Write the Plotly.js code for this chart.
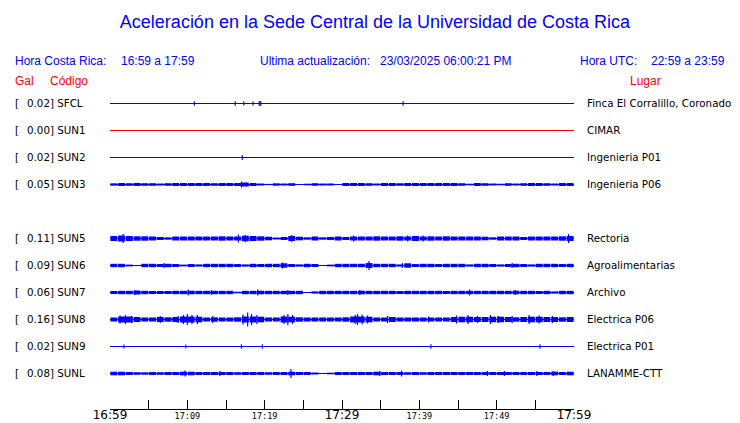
<!DOCTYPE html>
<html><head><meta charset="utf-8">
<script src="https://cdn.plot.ly/plotly-3.0.1.min.js"></script>
<style>html,body{margin:0;padding:0;background:#fff}</style>
</head><body><div id="chart" style="width:740px;height:423px"></div>
<script>
// ---------- data ----------
const stations = ['SFCL','SUN1','SUN2','SUN3','SUN5','SUN6','SUN7','SUN8','SUN9','SUNL'];
const slots    = [0,1,2,3,5,6,7,8,9,10];
const gals     = ['0.02','0.00','0.02','0.05','0.11','0.09','0.06','0.16','0.02','0.08'];
const places   = ['Finca El Corralillo, Coronado','CIMAR','Ingenieria P01','Ingenieria P06','Rectoria',
                  'Agroalimentarias','Archivo','Electrica P06','Electrica P01','LANAMME-CTT'];
const traceColors = ['#0000ff','#ff0000','#0000ff','#0000ff','#0000ff','#0000ff','#0000ff','#0000ff','#0000ff','#0000ff'];

const tickMinutes = [0,5,10,15,20,25,30,35,40,45,50,55,60];
const smallTickText = ['','','17:09','','17:19','','','','17:39','','17:49','',''];
const bigTickMinutes = [0,30,60];
const bigTickText = ['16:59','17:29','17:59'];

// per-minute envelope (half amplitude, display units)
const envSUN3 = [1.2,1.5,1.3,1.5,1.3,1.3,1.0,1.3,1.5,1.5,1.5,1.5,1.5,1.3,1.5,1.5,1.5,2.0,1.5,1.0,
                 0.6,1.2,1.0,1.3,0.5,0.8,1.3,1.0,1.0,0.4,1.5,1.5,1.5,1.3,1.0,1.5,1.5,1.3,1.5,1.5,
                 1.5,1.5,1.5,1.5,1.5,1.3,0.8,1.5,1.3,1.0,0.8,1.3,1.0,1.3,1.5,1.5,1.3,1.0,1.5,1.5];
const envSUN5 = [2.5,3.0,2.5,2.2,2.2,2.0,1.5,1.2,2.0,2.0,2.0,2.0,2.0,2.0,2.2,2.0,2.0,2.8,2.5,2.2,
                 1.8,1.0,1.5,2.5,1.8,1.2,2.0,1.2,1.5,2.0,1.5,2.0,2.0,2.0,2.2,2.0,2.0,2.2,2.0,2.5,
                 2.0,2.2,2.0,2.2,2.0,2.0,2.0,2.0,1.8,1.2,2.0,2.0,2.0,1.5,2.0,2.0,2.0,2.0,2.2,2.5];
const envSUN6 = [1.7,1.7,0.9,0.5,1.7,1.7,1.5,1.7,1.5,0.9,1.5,1.1,1.7,1.7,1.7,1.7,1.5,1.1,1.7,1.5,
                 1.7,1.7,2.2,1.5,1.1,1.7,1.5,0.5,0.9,1.7,1.7,1.7,1.7,2.4,1.7,1.7,1.7,1.1,2.2,1.5,
                 1.7,1.7,1.5,1.7,1.7,1.7,1.1,1.7,1.7,1.5,1.1,1.5,1.7,1.5,1.1,1.7,1.7,1.7,1.5,1.7];
const envSUN7 = [1.5,1.7,1.7,2.0,1.7,1.5,1.5,1.5,1.7,1.7,1.8,1.7,1.7,1.7,1.7,1.7,0.8,1.7,1.7,1.8,
                 1.7,1.7,1.7,1.7,1.7,0.5,1.1,1.7,1.7,1.7,1.7,1.7,1.8,1.7,1.7,1.7,1.7,1.5,1.7,1.7,
                 1.7,1.7,1.7,1.5,1.7,1.7,1.7,1.7,1.7,1.7,1.7,1.7,1.8,1.7,1.7,1.5,1.7,1.1,1.7,1.7];
const envSUN8 = [2.0,3.0,3.0,2.5,2.0,2.0,2.5,2.2,2.5,3.0,3.0,2.8,2.0,2.2,2.0,2.0,2.2,3.0,3.0,2.8,
                 2.0,2.0,3.0,2.8,2.2,2.0,2.0,2.0,2.0,2.0,2.2,3.0,3.0,2.8,2.0,2.0,2.5,2.0,2.0,2.0,
                 2.0,2.0,2.0,2.0,2.5,2.8,2.8,2.5,2.5,2.8,2.8,2.5,2.2,2.5,2.8,2.8,2.5,2.5,2.2,2.5];
const envSUNL = [1.8,1.8,1.5,1.3,1.2,1.5,1.3,1.5,1.5,1.8,1.8,1.5,1.5,1.5,1.5,1.5,1.3,1.5,1.5,1.5,
                 1.3,1.5,1.5,1.8,1.5,1.5,1.0,0.3,0.8,1.5,1.5,1.5,1.5,1.5,1.8,1.5,1.5,1.5,1.3,1.5,
                 1.3,1.5,1.5,1.5,1.5,1.5,1.5,1.5,1.5,1.5,1.5,1.5,1.5,1.5,1.5,1.5,1.5,1.8,1.5,1.8];

// isolated spikes: minute and half amplitude
const spikeT_SFCL = [10.9,16.2,17.3,18.5,19.3,19.5,37.9];
const spikeA_SFCL = [2.2,2.2,2.0,2.0,2.5,2.5,2.2];
const spikeT_SUN2 = [17.1];
const spikeA_SUN2 = [2.5];
const spikeT_SUN3 = [17.0];
const spikeA_SUN3 = [3.0];
const spikeT_SUN5 = [1.7,16.6,17.5,23.5,31.5,38.5,40.5,59.3];
const spikeA_SUN5 = [4.5,4.0,3.5,3.5,3.0,3.0,3.0,4.5];
const spikeT_SUN6 = [7.0,22.3,33.5,37.8,52.0];
const spikeA_SUN6 = [2.5,3.0,4.5,2.5,2.5];
const spikeT_SUN7 = [3.2,10.1,13.1,19.1,23.0,32.3,46.5,52.4];
const spikeA_SUN7 = [2.5,3.0,2.5,3.0,2.5,2.5,3.0,2.5];
const spikeT_SUN8 = [1.3,2.0,2.8,6.5,8.8,9.5,10.0,10.6,11.3,13.3,17.2,17.8,18.3,19.0,22.5,23.0,23.6,
                     31.7,32.0,32.6,33.3,35.9,41.2,44.8,46.3,47.5,49.2,50.2,52.0,54.2,55.5,57.2];
const spikeA_SUN8 = [4.0,4.5,3.5,3.5,3.5,4.5,5.5,4.5,4.5,3.5,5.0,7.0,5.5,4.5,4.5,5.5,4.5,
                     4.5,5.5,5.0,4.0,3.5,3.0,4.0,4.5,3.5,4.5,3.5,3.5,4.5,4.0,3.5];
const spikeT_SUN9 = [1.8,9.8,17.0,19.7,41.5,55.6];
const spikeA_SUN9 = [2.0,2.0,2.2,2.2,2.2,2.2];
const spikeT_SUNL = [9.7,14.2,23.4,34.9,37.7,48.8,51.0,55.2,57.3];
const spikeA_SUNL = [3.0,2.5,4.5,2.5,3.0,2.5,2.5,2.5,2.5];

const envelopes = {SUN3:envSUN3,SUN5:envSUN5,SUN6:envSUN6,SUN7:envSUN7,SUN8:envSUN8,SUNL:envSUNL};
const spikes = {
  SFCL:[spikeT_SFCL,spikeA_SFCL], SUN2:[spikeT_SUN2,spikeA_SUN2], SUN3:[spikeT_SUN3,spikeA_SUN3],
  SUN5:[spikeT_SUN5,spikeA_SUN5], SUN6:[spikeT_SUN6,spikeA_SUN6], SUN7:[spikeT_SUN7,spikeA_SUN7],
  SUN8:[spikeT_SUN8,spikeA_SUN8], SUN9:[spikeT_SUN9,spikeA_SUN9], SUNL:[spikeT_SUNL,spikeA_SUNL]
};

// ---------- layout geometry ----------
const W=740,H=423,ML=110,MR=166,MT=90,MB=14;
const plotW=W-ML-MR, plotH=H-MT-MB;
const slotPx=27;
const firstSlotPx=103.5;
const yTop=(MT-firstSlotPx)/slotPx, yBot=(H-MB-firstSlotPx)/slotPx;
const px=x=>(x-ML)/plotW;
const py=y=>(H-MB-y)/plotH;
const u=a=>a/slotPx;

const traces=[];
stations.forEach((s,j)=>{
  const slot=slots[j], c=traceColors[j];
  traces.push({type:'scatter',mode:'lines',x:[0,60],y:[slot,slot],line:{color:c,width:1},
               xaxis:'x2',yaxis:'y',hoverinfo:'skip',showlegend:false});
  const env=envelopes[s];
  if(env){
    traces.push({type:'bar',x:env.map((_,k)=>k+0.5),y:env.map(a=>2*u(a)),base:env.map(a=>slot-u(a)),
                 width:0.9,marker:{color:c,line:{width:0}},xaxis:'x',yaxis:'y',hoverinfo:'skip',showlegend:false});
  }
  const sp=spikes[s];
  if(sp){
    traces.push({type:'bar',x:sp[0],y:sp[1].map(a=>2*u(a)),base:sp[1].map(a=>slot-u(a)),
                 width:0.15,marker:{color:c,line:{width:0}},xaxis:'x',yaxis:'y',hoverinfo:'skip',showlegend:false});
  }
});

const blue='#0000ff', red='#ff0000';
const hdrFont={family:'Liberation Sans, Arial, sans-serif',size:12,color:blue};
const redFont={family:'Liberation Sans, Arial, sans-serif',size:12,color:red};
const lblFont={family:'DejaVu Sans, sans-serif',size:10.3,color:'#000'};
function ann(text,x,y,font,anchor){
  return {text:text,xref:'paper',yref:'paper',x:px(x),y:py(y),xanchor:anchor||'left',yanchor:'middle',
          showarrow:false,font:font,borderpad:0,borderwidth:0};
}
const annotations=[
  ann('Hora Costa Rica:',15,61,hdrFont),
  ann('16:59 a 17:59',121,61,hdrFont),
  ann('Ultima actualización:',260,61,hdrFont),
  ann('23/03/2025 06:00:21 PM',380,61,hdrFont),
  ann('Hora UTC:',580,61,hdrFont),
  ann('22:59 a 23:59',651,61,hdrFont),
  ann('Gal',15,81,redFont),
  ann('Código',50,81,redFont),
  ann('Lugar',630,81,redFont)
];
stations.forEach((s,j)=>{
  const yy=103+slots[j]*slotPx;
  annotations.push(ann('[',15,yy,lblFont));
  annotations.push(ann(gals[j]+'] '+s,27,yy,lblFont));
  annotations.push(ann(places[j],587,yy,lblFont));
});

const layout={
  width:W,height:H,margin:{l:ML,r:MR,t:MT,b:MB,pad:0},
  paper_bgcolor:'#fff',plot_bgcolor:'#fff',
  title:{text:'Aceleración en la Sede Central de la Universidad de Costa Rica',
         font:{family:'Liberation Sans, Arial, sans-serif',size:18,color:blue},
         x:375/W,xanchor:'center',xref:'container',y:1-22/H,yanchor:'middle',yref:'container'},
  barmode:'overlay',showlegend:false,hovermode:false,
  xaxis:{range:[0,60],showline:true,linecolor:'#000',linewidth:1,ticks:'inside',ticklen:9,tickwidth:1,
         tickcolor:'#000',tickmode:'array',tickvals:tickMinutes,ticktext:smallTickText,
         tickfont:{family:'DejaVu Sans Mono, monospace',size:8.5,color:'#000'},
         showgrid:false,zeroline:false,fixedrange:true,automargin:false,ticklabelstandoff:-1},
  xaxis2:{range:[0,60],overlaying:'x',anchor:'y',side:'bottom',showline:false,ticks:'',
          tickmode:'array',tickvals:bigTickMinutes,ticktext:bigTickText,
          tickfont:{family:'DejaVu Sans, sans-serif',size:12,color:'#000'},
          showgrid:false,zeroline:false,fixedrange:true,automargin:false,ticklabelstandoff:-3},
  yaxis:{range:[yBot,yTop],visible:false,showgrid:false,zeroline:false,fixedrange:true},
  annotations:annotations
};
Plotly.newPlot('chart',traces,layout,{staticPlot:true,displayModeBar:false});
</script></body></html>
